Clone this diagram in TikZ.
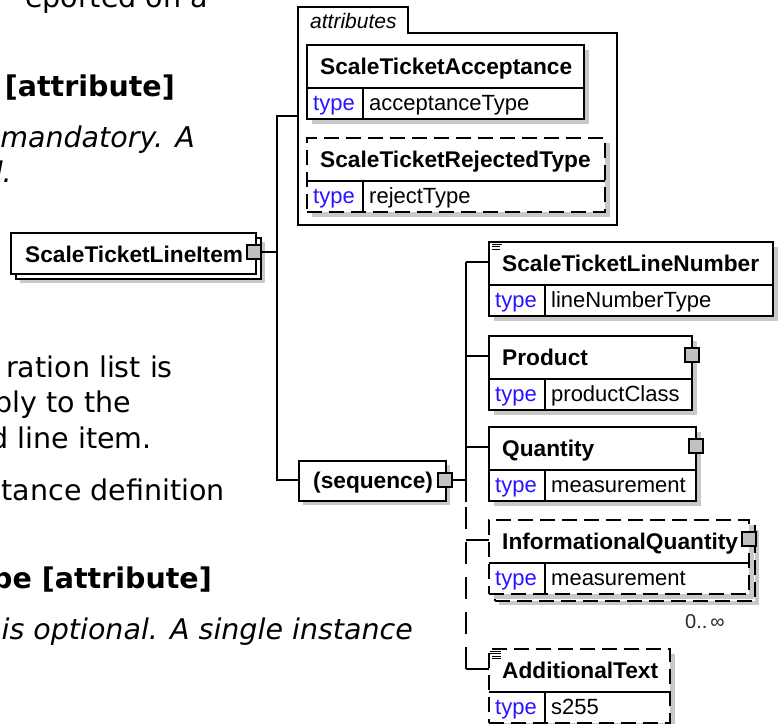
\documentclass[tikz,border=0pt]{standalone}
\usepackage{fontspec}
\newfontfamily\diafont{Liberation Sans}
\newfontfamily\docfamily{DejaVu Sans}
\definecolor{shadowgray}{RGB}{200,200,200}
\definecolor{portgray}{RGB}{192,192,192}
\definecolor{typeblue}{RGB}{40,20,255}
\definecolor{occgray}{RGB}{40,40,40}
\newcommand{\xsdelem}[6]{% #1 id, #2 left, #3 top, #4 right, #5 border style, #6 title, then type value
  \fill[shadowgray] (#2+5,#3+5) rectangle (#4+5,#3+79);
  \node[#5, fill=white, inner sep=0, outer sep=0, anchor=north west,
        minimum width={(#4)-(#2)}, minimum height=74] (#1) at (#2,#3) {};
  \draw[boxline] (#2,#3+43) -- (#4,#3+43);
  \draw[boxline] (#2+56,#3+43) -- (#2+56,#3+74);
  \coordinate (#1-in) at (#2,#3+20);
  \node[elname] (#1-title) at (#2+13,#3+29) {#6};
  \node[typelbl] (#1-tlabel) at (#2+6,#3+65) {type};
  \xsdtypeval{#1}{#2}{#3}}
\newcommand{\xsdtypeval}[4]{\node[typeval] (#1-tval) at (#2+62,#3+65) {#4};}
\begin{document}
\begin{tikzpicture}[x=1pt,y=-1pt,
  boxline/.style={draw=black, line width=1.5pt},
  solidbox/.style={boxline},
  dashbox/.style={boxline, dash pattern=on 15pt off 7pt},
  conn/.style={draw=black, line width=1.4pt},
  optconn/.style={conn, dash pattern=on 22pt off 13pt, dash phase=30pt},
  elname/.style={font=\diafont\bfseries\fontsize{22.7}{26}\selectfont, anchor=base west, inner sep=0},
  typelbl/.style={font=\diafont\fontsize{22}{26}\selectfont, text=typeblue, anchor=base west, inner sep=0},
  typeval/.style={font=\diafont\fontsize{22}{26}\selectfont, anchor=base west, inner sep=0},
  port/.style={fill=portgray, draw=black, line width=1.2pt, minimum width=14pt, minimum height=14pt, inner sep=0},
  doc/.style={font=\docfamily\fontsize{28.5}{35}\selectfont, anchor=base east, inner sep=0},
  docbold/.style={doc, font=\docfamily\bfseries\fontsize{28.5}{35}\selectfont},
  docit/.style={doc, font=\docfamily\itshape\fontsize{28.5}{35}\selectfont},
  icon/.style={draw=black, line width=0.8pt}]
\useasboundingbox (0,0) rectangle (779,723);
\clip (0,0) rectangle (779,723);
\fill[white] (0,0) rectangle (779,723);

% ---- documentation text (left) ----
\node[doc] (t1) at (208,7) {eported on a};
\node[docbold] (t2) at (175,96) {[attribute]};
\node[docit] (t3) at (195,147) {mandatory. A};
\node[docit] (t4) at (12,182) {d.};
\node[doc] (t5) at (173,377) {ration list is};
\node[doc] (t6) at (131,412) {ply to the};
\node[doc] (t7) at (152,448) {d line item.};
\node[doc] (t8) at (225,500) {tance definition};
\node[docbold] (t9) at (212,588) {pe [attribute]};
\node[docit] (t10) at (413,639) {is optional. A single instance};

% ---- attributes container ----
\draw[line width=1.5pt, fill=white] (298,7) -- (408,7) -- (408,33) -- (617,33) -- (617,225) -- (298,225) -- cycle;
\coordinate (attr-in) at (298,116);
\node[font=\diafont\itshape\fontsize{21}{24}\selectfont, anchor=base west, inner sep=0] (attrlabel) at (310,28) {attributes};

\xsdelem{acc}{307}{45}{584}{solidbox}{ScaleTicketAcceptance}{acceptanceType}
\xsdelem{rej}{307}{138}{605}{dashbox}{ScaleTicketRejectedType}{rejectType}

% ---- root element ----
\fill[shadowgray] (20,242) rectangle (265,283);
\node[solidbox, fill=white, inner sep=0, anchor=north west, minimum width=245, minimum height=41] (lineitem-back) at (15,237) {};
\node[solidbox, fill=white, inner sep=0, anchor=north west, minimum width=245, minimum height=41] (lineitem) at (10,232) {};
\node[elname] (lineitem-title) at (25,262) {ScaleTicketLineItem};
\node[port] (lineitem-port) at (254,252) {};

% ---- trunk ----
\coordinate (trunk-top) at (277,116);
\coordinate (trunk-bot) at (277,480);
\coordinate (seq-in) at (298,480);
\draw[conn] (lineitem-port.east) -- (lineitem-port.east -| trunk-top);
\draw[conn] (attr-in) -- (trunk-top) -- (trunk-bot) -- (seq-in);

% ---- sequence ----
\fill[shadowgray] (303,465) rectangle (450,505);
\node[solidbox, fill=white, inner sep=0, anchor=north west, minimum width=147, minimum height=40] (seq) at (298,460) {};
\node[elname] (seq-title) at (313,488) {(sequence)};
\node[port] (seq-port) at (445,480) {};
\coordinate (seq-trunk) at (466,480);
\draw[conn] (seq-port.east) -- (seq-trunk);

% ---- child elements ----
\xsdelem{sln}{489}{242}{773}{solidbox}{ScaleTicketLineNumber}{lineNumberType}
\draw[icon] (492,244) -- (502,244) (492,246.5) -- (500,246.5) (492,249) -- (500,249);

\xsdelem{prod}{489}{336}{692}{solidbox}{Product}{productClass}
\node[port] (prod-port) at (692,355) {};

\xsdelem{qty}{489}{427}{696}{solidbox}{Quantity}{measurement}
\node[port] (qty-port) at (696,446) {};

\fill[shadowgray] (499,530) rectangle (759,605);
\node[dashbox, fill=white, inner sep=0, anchor=north west, minimum width=260, minimum height=75] (infq-back) at (494,525) {};
\xsdelem{infq}{489}{520}{749}{dashbox}{InformationalQuantity}{measurement}
\node[port] (infq-port) at (749,539) {};
\node[font=\diafont\fontsize{20}{24}\selectfont, text=occgray, anchor=base west, inner sep=0] (infq-occ) at (685,628) {0..\kern3pt∞};

\xsdelem{addt}{489}{649}{670}{dashbox}{AdditionalText}{s255}
\draw[icon] (490,651) -- (501,651) (490,653.5) -- (501,653.5) (492,656) -- (501,656) (492,658.5) -- (501,658.5);

% ---- sequence connectors ----
\coordinate (seq-solid-end) at (466,502);
\draw[conn] (sln-in -| seq-trunk) -- (seq-solid-end);
\draw[optconn] (seq-solid-end) -- (addt-in -| seq-trunk);
\draw[conn] (sln-in -| seq-trunk) -- (sln-in);
\draw[conn] (prod-in -| seq-trunk) -- (prod-in);
\draw[conn] (qty-in -| seq-trunk) -- (qty-in);
\draw[conn] (infq-in -| seq-trunk) -- (infq-in);
\draw[conn] (addt-in -| seq-trunk) -- (addt-in);
\end{tikzpicture}
\end{document}
